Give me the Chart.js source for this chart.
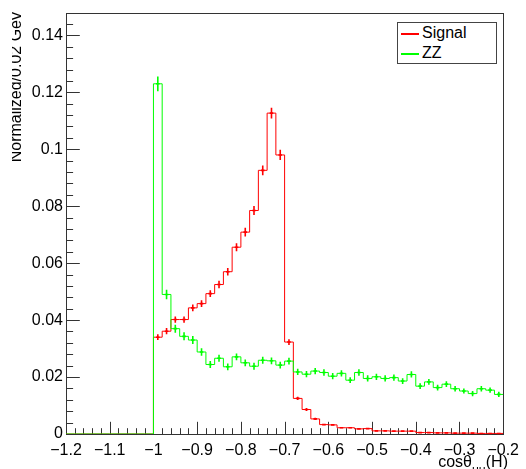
<!DOCTYPE html>
<html>
<head>
<meta charset="utf-8">
<script src="https://cdn.jsdelivr.net/npm/chart.js@4.4.0/dist/chart.umd.min.js"></script>
<style>
  html, body { margin: 0; padding: 0; background: #fff; overflow: hidden; }
  #wrap { position: relative; width: 526px; height: 469px; overflow: hidden;
          font-family: 'Liberation Sans', Arial, Helvetica, sans-serif; color: #000; }
  #histo { position: absolute; left: 0; top: 0; }
  #ytitleClip { position: absolute; left: 12px; top: 0; width: 20px; height: 240px; overflow: hidden; }
  #ytitle { position: absolute; left: -6.5px; top: 212px; width: 200px; height: 20px; line-height: 20px;
            font-size: 16px; text-align: right; white-space: nowrap;
            transform-origin: 0 0; transform: rotate(-90deg); }
  #xtitle { position: absolute; right: 18px; top: 451.5px; line-height: 20px; font-size: 16px; white-space: nowrap; }
  #xtitle .sub { font-size: 12px; position: relative; top: 7px; }
  #legend { position: absolute; left: 397px; top: 22px; width: 100px; height: 42px; box-sizing: border-box;
            border: 1px solid #444; background: #fff; font-size: 16px; }
  #legend .row { height: 20px; line-height: 20px; white-space: nowrap; }
  #legend .swatch { display: inline-block; width: 18px; height: 2px; vertical-align: middle;
                    margin-left: 3px; margin-right: 3px; }
</style>
</head>
<body>
<div id="wrap">
  <canvas id="histo" width="526" height="469"></canvas>
  <div id="ytitleClip"><div id="ytitle">Normalized/0.02 Gev</div></div>
  <div id="xtitle">cosθ<span class="sub">μμ</span>(H)</div>
  <div id="legend">
    <div class="row"><span class="swatch" style="background:#ff0000"></span>Signal</div>
    <div class="row"><span class="swatch" style="background:#00ff00"></span>ZZ</div>
  </div>
</div>
<script>
// bin edges of the histogram (50 bins of 0.02)
var binEdges = [
  -1.2, -1.18, -1.16, -1.14, -1.12, -1.1, -1.08, -1.06, -1.04, -1.02,
  -1.0, -0.98, -0.96, -0.94, -0.92, -0.9, -0.88, -0.86, -0.84, -0.82,
  -0.8, -0.78, -0.76, -0.74, -0.72, -0.7, -0.68, -0.66, -0.64, -0.62,
  -0.6, -0.58, -0.56, -0.54, -0.52, -0.5, -0.48, -0.46, -0.44, -0.42,
  -0.4, -0.38, -0.36, -0.34, -0.32, -0.3, -0.28, -0.26, -0.24, -0.22,
  -0.2
];

var signal = [
  0, 0, 0, 0, 0, 0, 0, 0, 0, 0,
  0.034, 0.0361, 0.0402, 0.0402, 0.0443, 0.0458, 0.0493, 0.0525, 0.057, 0.0656,
  0.0709, 0.0785, 0.0926, 0.1127, 0.098, 0.0323, 0.0125, 0.0086, 0.0053, 0.0033,
  0.0032, 0.0022, 0.0022, 0.0018, 0.0019, 0.0011, 0.0011, 0.001, 0.001, 0.001,
  0.0005, 0.0005, 0.0004, 0.0004, 0.0003, 0.0003, 0.0003, 0.0002, 0.0002, 0.0002
];
var signalErr = [
  0, 0, 0, 0, 0, 0, 0, 0, 0, 0,
  0.001, 0.0011, 0.0011, 0.0011, 0.0012, 0.0012, 0.0012, 0.0013, 0.0013, 0.0014,
  0.0015, 0.0016, 0.0017, 0.0019, 0.0018, 0.001, 0.0006, 0.0005, 0.0004, 0.0003,
  0.0003, 0.00026, 0.00026, 0.00024, 0.00024, 0.00019, 0.00019, 0.00018, 0.00018, 0.00018,
  0.00013, 0.00013, 0.00011, 0.00011, 0.0001, 0.0001, 0.0001, 0.00008, 0.00008, 0.00008
];

var zz = [
  0, 0, 0, 0, 0, 0, 0, 0, 0, 0,
  0.123, 0.049, 0.037, 0.0343, 0.033, 0.0288, 0.0244, 0.0266, 0.0236, 0.0271,
  0.025, 0.0238, 0.0259, 0.0257, 0.0242, 0.0256, 0.0218, 0.021, 0.0221, 0.0216,
  0.0203, 0.0213, 0.0189, 0.0216, 0.0195, 0.0201, 0.0195, 0.0198, 0.0186, 0.0209,
  0.0168, 0.0183, 0.0163, 0.0175, 0.0159, 0.0151, 0.0142, 0.0159, 0.0154, 0.0139
];
var zzErr = [
  0, 0, 0, 0, 0, 0, 0, 0, 0, 0,
  0.0026, 0.0017, 0.0014, 0.0014, 0.0014, 0.0013, 0.0012, 0.0012, 0.0012, 0.0012,
  0.0012, 0.0012, 0.0012, 0.0012, 0.0012, 0.0012, 0.0011, 0.0011, 0.0011, 0.0011,
  0.0011, 0.0011, 0.001, 0.0011, 0.0011, 0.0011, 0.0011, 0.0011, 0.001, 0.0011,
  0.001, 0.001, 0.001, 0.001, 0.001, 0.0009, 0.0009, 0.001, 0.0009, 0.0009
];

var xTicks = [-1.2, -1.1, -1, -0.9, -0.8, -0.7, -0.6, -0.5, -0.4, -0.3, -0.2];
var xTickLabels = ['\u22121.2', '\u22121.1', '\u22121', '\u22120.9', '\u22120.8', '\u22120.7',
                   '\u22120.6', '\u22120.5', '\u22120.4', '\u22120.3', '\u22120.2'];
var yTicks = [0, 0.02, 0.04, 0.06, 0.08, 0.1, 0.12, 0.14];
var yTickLabels = ['0', '0.02', '0.04', '0.06', '0.08', '0.1', '0.12', '0.14'];

var FONT = "'Liberation Sans', Arial, Helvetica, sans-serif";

// histogram outline: one point per lower edge, plus the last upper edge
function histPoints(vals) {
  var pts = [];
  for (var i = 0; i < vals.length; i++) pts.push({ x: binEdges[i], y: vals[i] });
  pts.push({ x: binEdges[vals.length], y: vals[vals.length - 1] });
  return pts;
}

// ROOT-like frame with inward ticks
var frame = {
  id: 'frame',
  beforeDatasetsDraw: function (chart) {
    var ctx = chart.ctx, ca = chart.chartArea;
    var xs = chart.scales.x, ys = chart.scales.y;
    var L = Math.round(ca.left) + 0.5, R = Math.round(ca.right) + 0.5;
    var T = Math.round(ca.top) + 0.5, B = Math.round(ca.bottom) + 0.5;
    ctx.save();
    ctx.strokeStyle = '#333';
    ctx.lineWidth = 1;
    ctx.strokeRect(L, T, R - L, B - T);
    ctx.beginPath();
    for (var k = 0; k <= 50; k++) {
      var px = Math.round(xs.getPixelForValue(-1.2 + 0.02 * k)) + 0.5;
      var len = (k % 5 === 0) ? 12.7 : 6.3;
      ctx.moveTo(px, B);
      ctx.lineTo(px, B - len);
    }
    for (var j = 0; j <= 37; j++) {
      var py = Math.round(ys.getPixelForValue(0.004 * j)) + 0.5;
      if (py < T) continue;
      var ylen = (j % 5 === 0) ? 13.3 : 6.6;
      ctx.moveTo(L, py);
      ctx.lineTo(L + ylen, py);
    }
    ctx.stroke();
    ctx.restore();
  }
};

// error crosses at bin centres
var errorBars = {
  id: 'errorBars',
  afterDatasetsDraw: function (chart) {
    var ctx = chart.ctx, xs = chart.scales.x, ys = chart.scales.y;
    ctx.save();
    ctx.lineWidth = 1.6;
    chart.data.datasets.forEach(function (ds) {
      var vals = ds.values, errs = ds.errors;
      ctx.strokeStyle = ds.borderColor;
      ctx.beginPath();
      for (var i = 0; i < vals.length; i++) {
        if (!vals[i]) continue;
        var cx = xs.getPixelForValue((binEdges[i] + binEdges[i + 1]) / 2);
        var cy = ys.getPixelForValue(vals[i]);
        ctx.moveTo(cx, ys.getPixelForValue(vals[i] - errs[i]));
        ctx.lineTo(cx, ys.getPixelForValue(vals[i] + errs[i]));
        ctx.moveTo(cx - 1.8, cy);
        ctx.lineTo(cx + 1.8, cy);
      }
      ctx.stroke();
    });
    ctx.restore();
  }
};

var ctx = document.getElementById('histo').getContext('2d');
var chart = new Chart(ctx, {
  type: 'line',
  data: {
    datasets: [
      {
        label: 'Signal',
        data: histPoints(signal),
        values: signal,
        errors: signalErr,
        borderColor: '#ff0000',
        borderWidth: 1,
        stepped: true,
        pointRadius: 0,
        fill: false,
        order: 1
      },
      {
        label: 'ZZ',
        data: histPoints(zz),
        values: zz,
        errors: zzErr,
        borderColor: '#00ff00',
        borderWidth: 1,
        stepped: true,
        pointRadius: 0,
        fill: false,
        order: 0
      }
    ]
  },
  options: {
    responsive: false,
    animation: false,
    devicePixelRatio: 1,
    layout: { padding: { left: 0, right: 18, top: 11, bottom: 0 } },
    plugins: { legend: { display: false }, tooltip: { enabled: false } },
    scales: {
      x: {
        type: 'linear',
        min: -1.2,
        max: -0.2,
        afterBuildTicks: function (s) { s.ticks = xTicks.map(function (v) { return { value: v }; }); },
        afterFit: function (s) { s.height = 35; },
        ticks: {
          callback: function (v, i) { return xTickLabels[i]; },
          font: { family: FONT, size: 16 },
          color: '#000',
          padding: 7,
          maxRotation: 0,
          autoSkip: false
        },
        grid: { display: false, drawTicks: false },
        border: { display: false }
      },
      y: {
        type: 'linear',
        min: 0,
        max: 0.148,
        afterBuildTicks: function (s) { s.ticks = yTicks.map(function (v) { return { value: v }; }); },
        afterFit: function (s) { s.width = 66; },
        ticks: {
          callback: function (v, i) { return yTickLabels[i]; },
          font: { family: FONT, size: 16 },
          color: '#000',
          padding: 3,
          autoSkip: false
        },
        grid: { display: false, drawTicks: false },
        border: { display: false }
      }
    }
  },
  plugins: [frame, errorBars]
});
</script>
</body>
</html>
